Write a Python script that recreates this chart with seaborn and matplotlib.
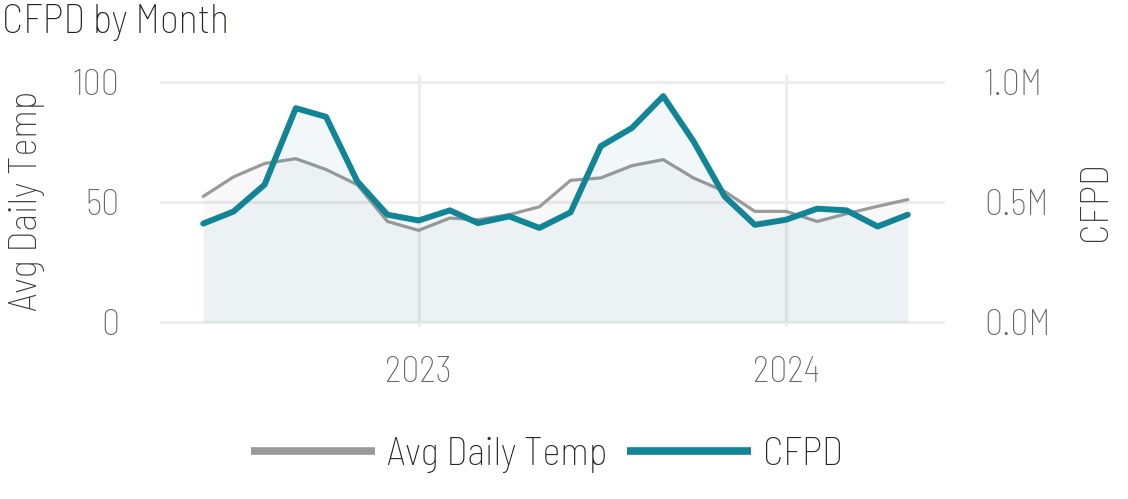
import matplotlib
matplotlib.use("Agg")
import matplotlib.pyplot as plt
import matplotlib.dates as mdates
from matplotlib.lines import Line2D
from matplotlib.ticker import FuncFormatter
import pandas as pd
import seaborn as sns

# Monthly series, Jun 2022 - May 2024
months = pd.date_range("2022-06-01", "2024-05-01", freq="MS")
avg_temp = [52.3, 60.4, 66.0, 68.0, 63.5, 57.2, 41.9, 38.2, 43.3, 42.6, 44.7, 48.0,
            59.0, 60.0, 65.1, 67.6, 60.0, 54.4, 46.1, 46.1, 41.9, 45.1, 48.2, 51.0]
cfpd = [410000, 460000, 572000, 890000, 854000, 586000, 447000, 423000, 465000, 412000, 440000, 392000,
        457000, 732000, 808000, 940000, 753000, 523000, 405000, 426000, 472000, 465000, 398000, 447000]
year_ticks = ["2023-01-01", "2024-01-01"]

df = pd.DataFrame({"month": months, "Avg Daily Temp": avg_temp, "CFPD": cfpd})

sns.set_theme(style="white")
plt.rcParams["font.family"] = ["Barlow Semi Condensed", "Barlow Condensed", "DejaVu Sans"]
plt.rcParams["font.weight"] = "light"
plt.rcParams["axes.labelweight"] = "light"

TEAL = "#118596"
GRAY = "#9a9a9a"
TICK = "#666666"
LABEL = "#3a3a3a"
GRID = "#ededed"

fig = plt.figure(figsize=(11.28, 4.99), dpi=100)
ax = fig.add_axes([0.1418, 0.3447, 0.696, 0.505])
ax2 = ax.twinx()

# temperature: area + line on the left axis
ax.fill_between(df["month"], df["Avg Daily Temp"], 0, color=GRAY, alpha=0.065, lw=0)
sns.lineplot(data=df, x="month", y="Avg Daily Temp", ax=ax, color=GRAY, lw=2.3, legend=False)

# CFPD: area + line on the right axis
ax2.fill_between(df["month"], df["CFPD"], 0, color=TEAL, alpha=0.05, lw=0)
sns.lineplot(data=df, x="month", y="CFPD", ax=ax2, color=TEAL, lw=4.3, legend=False)

ax.set_ylim(-2, 102.8)
ax2.set_ylim(-20000, 1028000)
ax.set_xlim(pd.Timestamp("2022-04-19"), pd.Timestamp("2024-06-07"))

ax.set_yticks([0, 50, 100])
ax2.set_yticks([0, 500000, 1000000])
ax2.yaxis.set_major_formatter(FuncFormatter(lambda v, p: f"{v / 1e6:.1f}M"))
ax.set_xticks(pd.to_datetime(year_ticks))
ax.xaxis.set_major_formatter(mdates.DateFormatter("%Y"))

for a in (ax, ax2):
    for s in a.spines.values():
        s.set_visible(False)
    a.tick_params(length=0, labelsize=26, labelcolor=TICK)
ax.tick_params(axis="y", pad=29)
ax2.tick_params(axis="y", pad=28)
ax.tick_params(axis="x", pad=21)

ax.grid(True, axis="both", color=GRID, lw=2.2)
ax.set_axisbelow(True)

ax.set_xlabel("")
ax.set_ylabel("Avg Daily Temp", fontsize=28, color=LABEL, labelpad=20)
ax2.set_ylabel("CFPD", fontsize=28, color=LABEL, labelpad=20, rotation=90)

fig.text(0.002, 0.955, "CFPD by Month", fontsize=29, color="#252423", ha="left", va="center")

handles = [Line2D([], [], color=GRAY, lw=5.5, solid_capstyle="butt"),
           Line2D([], [], color=TEAL, lw=5.5, solid_capstyle="butt")]
fig.legend(handles, ["Avg Daily Temp", "CFPD"], loc="center", bbox_to_anchor=(0.4846, 0.088),
           ncol=2, frameon=False, fontsize=28, handlelength=3.2, handletextpad=0.3,
           columnspacing=0.5, labelcolor="#252423")

fig.savefig("out.png", dpi=100)
